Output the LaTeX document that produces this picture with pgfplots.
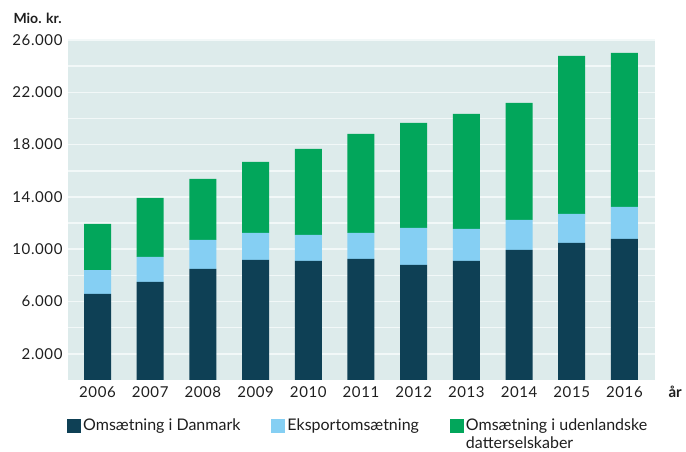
\documentclass[border=0pt]{standalone}
\usepackage{fontspec}
\setmainfont{Lato}
\usepackage{pgfplots}
\pgfplotsset{compat=1.18}
\definecolor{cdark}{RGB}{14,64,85}
\definecolor{clight}{RGB}{133,207,243}
\definecolor{cgreen}{RGB}{2,166,91}
\definecolor{cbg}{RGB}{221,235,235}
\definecolor{cgrid}{RGB}{242,248,248}
\definecolor{ctext}{RGB}{30,30,30}
\begin{document}
\begin{tikzpicture}[x=1pt,y=1pt]
\path (0,0) rectangle (686,452);
\begin{axis}[
  at={(68pt,72pt)}, anchor=south west,
  scale only axis, width=587pt, height=340pt,
  ymin=0, ymax=26000, xmin=-0.56, xmax=10.58,
  ybar stacked, bar width=27pt,
  axis background/.style={fill=cbg},
  axis line style={draw=none},
  tick style={draw=none},
  ytick={2000,6000,...,26000},
  minor ytick={4000,8000,...,24000},
  ymajorgrids, yminorgrids,
  major grid style={draw=cgrid, line width=1.5pt},
  minor grid style={draw=cgrid, line width=1.5pt},
  xtick={0,...,10},
  xticklabels={2006,2007,2008,2009,2010,2011,2012,2013,2014,2015,2016},
  scaled y ticks=false,
  /pgf/number format/assume math mode=true,
  yticklabel={\pgfmathprintnumber[1000 sep={.},fixed,precision=0,assume math mode=true]{\tick}},
  tick label style={font=\fontsize{15}{17}\selectfont\addfontfeature{LetterSpace=4}, text=ctext},
  yticklabel style={xshift=-2pt},
  xticklabel style={yshift=-3pt},
  legend image code/.code={\fill[#1] (0pt,-7pt) rectangle (14pt,7pt);},
  legend style={draw=none, fill=none, at={(0,0)}, anchor=north west, yshift=-35pt, xshift=-4pt,
    font=\fontsize{16}{18}\selectfont, text=ctext, legend columns=3,
    /tikz/every even column/.append style={column sep=29pt}},
  legend cell align=left,
]
\addplot[fill=cdark, draw=none] coordinates {(0,6580) (1,7500) (2,8490) (3,9180) (4,9100) (5,9260) (6,8800) (7,9100) (8,9950) (9,10480) (10,10790)};
\addplot[fill=clight, draw=none] coordinates {(0,1830) (1,1910) (2,2220) (3,2070) (4,1990) (5,1990) (6,2830) (7,2450) (8,2290) (9,2220) (10,2450)};
\addplot[fill=cgreen, draw=none] coordinates {(0,3520) (1,4510) (2,4670) (3,5430) (4,6580) (5,7580) (6,8030) (7,8800) (8,8950) (9,12090) (10,11780)};
\addlegendentry{Omsætning i Danmark}
\addlegendentry{Eksportomsætning}
\addlegendentry{\parbox[t]{200pt}{\baselineskip=18pt Omsætning i udenlandske\\datterselskaber}}
\end{axis}
\node[anchor=base west, font=\fontsize{14}{16}\selectfont\bfseries, text=ctext] at (10,428) {Mio. kr.};
\node[anchor=base west, font=\fontsize{15}{17}\selectfont\bfseries, text=ctext] at (665,54) {år};
\end{tikzpicture}
\end{document}
